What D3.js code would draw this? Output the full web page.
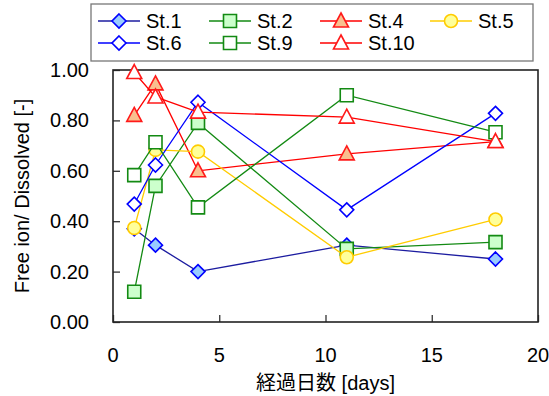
<!DOCTYPE html>
<html>
<head>
<meta charset="utf-8">
<script src="https://cdn.jsdelivr.net/npm/d3@7/dist/d3.min.js"></script>
<style>
  html, body { margin: 0; padding: 0; background: #fff; }
  svg { display: block; }
  text { font-family: "Liberation Sans", Arial, sans-serif; fill: #000; }
  .cjk { font-family: "Liberation Sans", "Noto Sans CJK JP", sans-serif; }
</style>
</head>
<body>
<svg id="chart" width="549" height="396"></svg>
<script>
// Elapsed days at each sampling
const days = [1, 2, 4, 11, 18];

// Free ion / dissolved ratio per station
const st1  = [0.37, 0.305, 0.20, 0.305, 0.25];
const st2  = [0.12, 0.54, 0.79, 0.29, 0.317];
const st4  = [0.82, 0.945, 0.60, 0.667, 0.716];
const st5  = [0.373, 0.683, 0.676, 0.257, 0.407];
const st6  = [0.468, 0.623, 0.872, 0.445, 0.828];
const st9  = [0.583, 0.713, 0.455, 0.90, 0.753];
const st10 = [0.99, 0.893, 0.833, 0.813, 0.716];

const xTicks = [0, 5, 10, 15, 20];
const yTicks = [0, 0.2, 0.4, 0.6, 0.8, 1.0];

const series = [
  { name: "St.1",  values: st1,  shape: "diamond",  line: "#1c1ca0", stroke: "#0000ff", fill: "#99ccff" },
  { name: "St.2",  values: st2,  shape: "square",   line: "#138a13", stroke: "#138a13", fill: "#ccffcc" },
  { name: "St.4",  values: st4,  shape: "triangle", line: "#ff0000", stroke: "#ff1a1a", fill: "#f9c08f" },
  { name: "St.5",  values: st5,  shape: "circle",   line: "#ffcc00", stroke: "#ffcc00", fill: "#ffff99" },
  { name: "St.6",  values: st6,  shape: "diamond",  line: "#0000ff", stroke: "#0000ff", fill: "#ffffff" },
  { name: "St.9",  values: st9,  shape: "square",   line: "#138a13", stroke: "#138a13", fill: "#ffffff" },
  { name: "St.10", values: st10, shape: "triangle", line: "#ff0000", stroke: "#ff1a1a", fill: "#ffffff" }
];

const svg = d3.select("#chart");
const plot = { left: 113, right: 538, top: 70, bottom: 322 };

const x = d3.scaleLinear().domain([0, 20]).range([plot.left, plot.right]);
const y = d3.scaleLinear().domain([0, 1]).range([plot.bottom, plot.top]);

// Marker path generator centred on the origin
function markerPath(shape) {
  switch (shape) {
    case "diamond":  return "M0,-7 L7,0 L0,7 L-7,0 Z";
    case "square":   return "M-6.5,-6.5 H6.5 V6.5 H-6.5 Z";
    case "triangle": return "M0,-8 L7.5,6 L-7.5,6 Z";
    case "circle":   return d3.symbol(d3.symbolCircle, Math.PI * 6.5 * 6.5)();
  }
}

// Axes: ticks point inward
const xAxis = d3.axisBottom(x).tickValues(xTicks).tickSize(-7).tickFormat("");
const yAxis = d3.axisLeft(y).tickValues(yTicks).tickSize(-7).tickFormat("");

svg.append("g")
  .attr("transform", `translate(0,${plot.bottom})`)
  .call(xAxis)
  .call(g => g.select(".domain").remove())
  .call(g => g.selectAll(".tick line").attr("stroke", "#333").attr("stroke-width", 1.3));

svg.append("g")
  .attr("transform", `translate(${plot.left},0)`)
  .call(yAxis)
  .call(g => g.select(".domain").remove())
  .call(g => g.selectAll(".tick line").attr("stroke", "#333").attr("stroke-width", 1.3));

// Plot frame
svg.append("rect")
  .attr("x", plot.left).attr("y", plot.top)
  .attr("width", plot.right - plot.left).attr("height", plot.bottom - plot.top)
  .attr("fill", "none").attr("stroke", "#222").attr("stroke-width", 1.6);

// Tick labels
svg.append("g").selectAll("text")
  .data(xTicks).join("text")
  .attr("x", d => x(d)).attr("y", 362)
  .attr("text-anchor", "middle").attr("font-size", 20)
  .text(d => d);

svg.append("g").selectAll("text")
  .data(yTicks).join("text")
  .attr("x", 89).attr("y", d => y(d) + 7)
  .attr("text-anchor", "end").attr("font-size", 20)
  .text(d => d3.format(".2f")(d));

// Axis titles
svg.append("text")
  .attr("class", "cjk")
  .attr("x", x(10)).attr("y", 390)
  .attr("text-anchor", "middle").attr("font-size", 20)
  .text("経過日数 [days]");

svg.append("text")
  .attr("transform", `translate(29,${(plot.top + plot.bottom) / 2}) rotate(-90)`)
  .attr("text-anchor", "middle").attr("font-size", 20)
  .text("Free ion/ Dissolved [-]");

// Series: line then markers, drawn one station after another
const line = d3.line().x((d, i) => x(days[i])).y(d => y(d));

series.forEach(s => {
  const g = svg.append("g");
  g.append("path")
    .attr("d", line(s.values))
    .attr("fill", "none").attr("stroke", s.line).attr("stroke-width", 1.3);
  g.selectAll("path.mk")
    .data(s.values).join("path")
    .attr("class", "mk")
    .attr("d", markerPath(s.shape))
    .attr("transform", (d, i) => `translate(${x(days[i])},${y(d)})`)
    .attr("fill", s.fill).attr("stroke", s.stroke).attr("stroke-width", 1.6);
});

// Legend
const legend = svg.append("g");
legend.append("rect")
  .attr("x", 91).attr("y", 4).attr("width", 442).attr("height", 57)
  .attr("fill", "#fff").attr("stroke", "#777").attr("stroke-width", 1.3);

const colX = [98, 209, 320, 430];
const rowY = [21, 43];
const layout = [
  [0, 0], [1, 0], [2, 0], [3, 0],
  [0, 1], [1, 1], [2, 1]
];

series.forEach((s, i) => {
  const [c, r] = layout[i];
  const lx = colX[c], ly = rowY[r];
  const item = legend.append("g");
  item.append("line")
    .attr("x1", lx).attr("x2", lx + 42).attr("y1", ly).attr("y2", ly)
    .attr("stroke", s.line).attr("stroke-width", 1.3);
  item.append("path")
    .attr("d", markerPath(s.shape))
    .attr("transform", `translate(${lx + 21},${ly})`)
    .attr("fill", s.fill).attr("stroke", s.stroke).attr("stroke-width", 1.6);
  item.append("text")
    .attr("x", lx + 48).attr("y", ly + 7)
    .attr("font-size", 20)
    .text(s.name);
});
</script>
</body>
</html>
